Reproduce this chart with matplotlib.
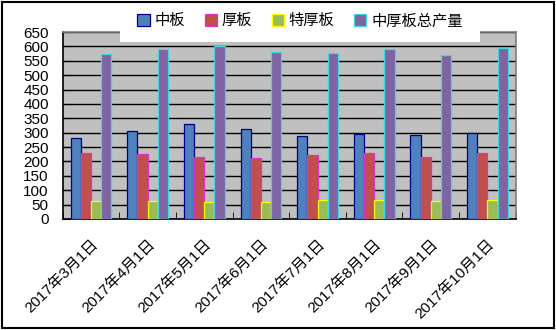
import matplotlib
matplotlib.use('Agg')
from matplotlib import pyplot as plt
from matplotlib.patches import Rectangle
import numpy as np

# datos del grafico
fechas = ['2017年3月1日', '2017年4月1日', '2017年5月1日', '2017年6月1日',
          '2017年7月1日', '2017年8月1日', '2017年9月1日', '2017年10月1日']
series = ['中板', '厚板', '特厚板', '中厚板总产量']
zhongban = [282, 305, 329, 312, 288, 296, 292, 299]
houban = [229, 226, 216, 211, 222, 229, 216, 229]
tehouban = [62, 62, 58, 58, 66, 66, 62, 66]
zongchanliang = [573, 591, 603, 581, 576, 592, 570, 594]
yticks = list(range(0, 651, 50))

colores = ['#4F81BD', '#C0504D', '#9BBB59', '#8064A2']
bordes = ['#000080', '#E030C8', '#FFFF00', '#40D8E0']

plt.rcParams['font.family'] = ['Liberation Sans', 'Noto Sans CJK SC']

fig = plt.figure(figsize=(5.56, 3.30), dpi=100)
ax = fig.add_axes([62.7 / 556, 1 - 219 / 330, 453 / 556, 187 / 330])
ax.set_facecolor('#C0C0C0')

x = np.arange(len(fechas))
ancho = 0.18
valores = [zhongban, houban, tehouban, zongchanliang]
for i, v in enumerate(valores):
    ax.bar(x - 1.5 * ancho + i * ancho, v, width=ancho, color=colores[i],
           edgecolor=bordes[i], linewidth=0.9, label=series[i], zorder=3)

ax.set_xlim(-0.5, len(fechas) - 0.5)
ax.set_ylim(0, 650)
ax.set_yticks(yticks)
ax.set_yticklabels([str(t) for t in yticks], fontsize=11)
ax.grid(axis='y', color='black', linewidth=1, zorder=1)
ax.set_axisbelow(True)

ax.set_xticks(x)
ax.set_xticklabels(fechas, rotation=45, ha='right', rotation_mode='anchor', fontsize=11)
ax.set_xticks(np.arange(len(fechas) + 1) - 0.5, minor=True)
ax.tick_params(axis='x', which='major', length=0, pad=13)
ax.tick_params(axis='x', which='minor', direction='in', length=5, color='black')
ax.tick_params(axis='y', direction='in', length=5, color='black', pad=10)

ax.spines['left'].set_color('black')
ax.spines['bottom'].set_color('black')
ax.spines['top'].set_color('#808080')
ax.spines['right'].set_color('#808080')
for s in ax.spines.values():
    s.set_linewidth(1.2)

# caja blanca de la leyenda
fig.patches.append(Rectangle((120 / 556, 1 - 42 / 330), 360 / 556, 39 / 330,
                             transform=fig.transFigure, facecolor='white',
                             edgecolor='none', zorder=4))
fig.legend(loc='center', bbox_to_anchor=(300 / 556, 1 - 21 / 330), ncol=4,
           frameon=False, fontsize=11, handlelength=0.8, handleheight=0.8,
           handletextpad=0.3, columnspacing=1.3)

# marco exterior
fig.patches.append(Rectangle((1.5 / 556, 1 - 328 / 330), 552 / 556, 326.5 / 330,
                             transform=fig.transFigure, facecolor='none',
                             edgecolor='black', linewidth=1.5, zorder=6))

fig.savefig('out.png', dpi=100)
